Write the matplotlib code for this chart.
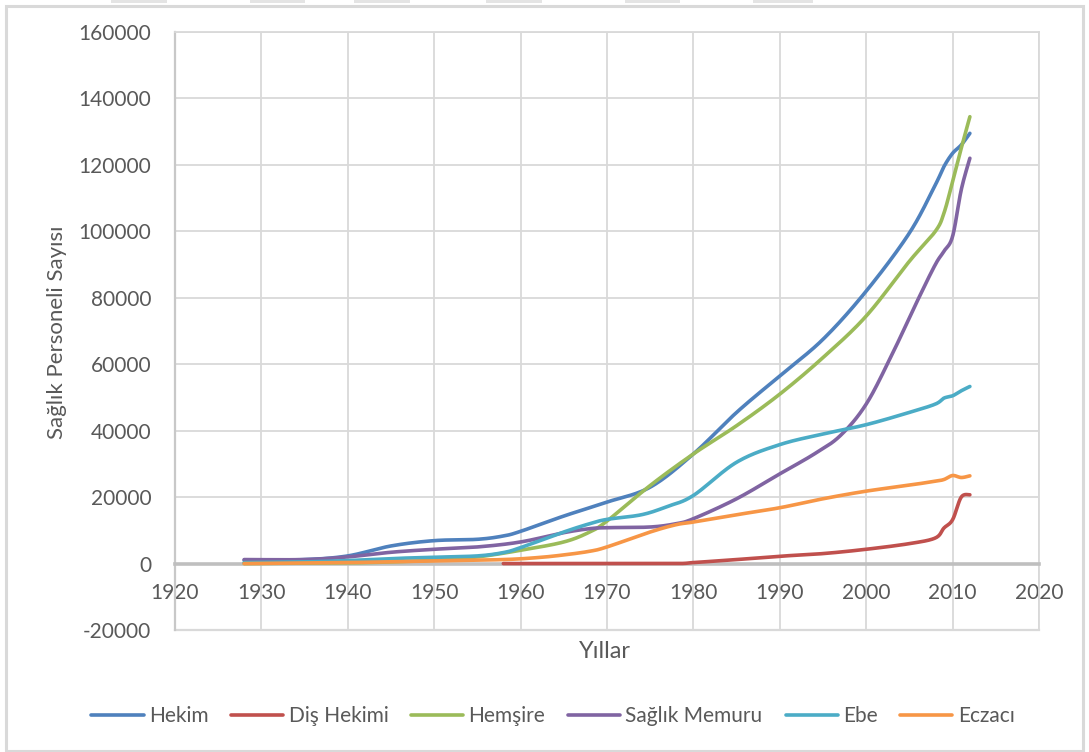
import numpy as np
import matplotlib
matplotlib.use("Agg")
import matplotlib.pyplot as plt
from matplotlib.patches import Rectangle

plt.rcParams["font.family"] = ["Lato", "DejaVu Sans"]
plt.rcParams["axes.unicode_minus"] = False

# Health personnel counts by year
hekim_years = [1928, 1935, 1940, 1945, 1950, 1955, 1958, 1960, 1965, 1970, 1975,
               1980, 1985, 1990, 1995, 2000, 2005, 2008, 2009, 2010, 2011, 2012]
hekim_vals = [1000, 1200, 2300, 5300, 6900, 7300, 8300, 9700, 14300, 18500, 23000,
              33000, 45500, 56500, 67500, 82000, 99500, 114000, 119500, 123500,
              126000, 129500]

dis_years = [1958, 1970, 1978, 1980, 1985, 1990, 1995, 2000, 2005, 2008, 2009,
             2010, 2011, 2012]
dis_vals = [0, 0, 0, 300, 1200, 2200, 3000, 4300, 6000, 7700, 10700, 13200,
            20000, 20700]

hemsire_years = [1928, 1940, 1945, 1950, 1955, 1960, 1965, 1968, 1970, 1975, 1980,
                 1985, 1990, 1995, 2000, 2005, 2008, 2009, 2010, 2011, 2012]
hemsire_vals = [0, 200, 500, 1000, 2000, 4000, 6500, 9500, 12800, 23500, 33000,
                41500, 51000, 62000, 74500, 91000, 100000, 105500, 115000, 125000,
                134500]

memur_years = [1928, 1935, 1940, 1945, 1950, 1955, 1960, 1965, 1968, 1970, 1975,
               1978, 1980, 1985, 1990, 1994, 1997, 2000, 2003, 2006, 2008, 2009,
               2010, 2011, 2012]
memur_vals = [1200, 1200, 2000, 3400, 4300, 5000, 6500, 9300, 10500, 10800, 11000,
              12000, 13500, 19500, 27000, 33000, 38500, 48000, 63000, 79500, 90000,
              94000, 98500, 112500, 122000]

ebe_years = [1928, 1935, 1940, 1945, 1950, 1955, 1958, 1960, 1965, 1968, 1970, 1974,
             1977, 1980, 1985, 1990, 1995, 2000, 2005, 2008, 2009, 2010, 2011, 2012]
ebe_vals = [300, 500, 900, 1500, 1900, 2300, 3300, 4800, 9500, 12000, 13300, 14700,
            17200, 20500, 30500, 35800, 39000, 41800, 45500, 48000, 49800, 50500,
            52000, 53300]

eczaci_years = [1928, 1940, 1950, 1958, 1962, 1965, 1968, 1970, 1975, 1978, 1980,
                1985, 1990, 1995, 2000, 2005, 2008, 2009, 2010, 2011, 2012]
eczaci_vals = [0, 300, 800, 1200, 1800, 2600, 3700, 5000, 9500, 11700, 12500,
               14700, 16800, 19500, 21800, 23600, 24800, 25300, 26500, 25900, 26400]

series_names = ["Hekim", "Diş Hekimi", "Hemşire", "Sağlık Memuru", "Ebe", "Eczacı"]
series_colors = ["#4F81BD", "#C0504D", "#9BBB59", "#8064A2", "#4BACC6", "#F79646"]
series_data = [(hekim_years, hekim_vals), (dis_years, dis_vals),
               (hemsire_years, hemsire_vals), (memur_years, memur_vals),
               (ebe_years, ebe_vals), (eczaci_years, eczaci_vals)]

x_ticks = list(range(1920, 2021, 10))
y_ticks = list(range(-20000, 160001, 20000))


def smooth(xs, ys, n=24):
    """Catmull-Rom curve through the points, like a smoothed office chart line."""
    p = np.column_stack([xs, ys]).astype(float)
    p = np.vstack([p[0], p, p[-1]])
    out = []
    t = np.linspace(0, 1, n, endpoint=False)[:, None]
    for i in range(1, len(p) - 2):
        p0, p1, p2, p3 = p[i - 1], p[i], p[i + 1], p[i + 2]
        seg = 0.5 * ((2 * p1) + (-p0 + p2) * t + (2 * p0 - 5 * p1 + 4 * p2 - p3) * t ** 2
                     + (-p0 + 3 * p1 - 3 * p2 + p3) * t ** 3)
        out.append(seg)
    out.append(p[-2][None, :])
    c = np.vstack(out)
    return c[:, 0], c[:, 1]


W, H = 1089, 752
fig = plt.figure(figsize=(W / 100, H / 100), dpi=100)
fig.patch.set_facecolor("white")

# outer chart border and the tab shapes peeking at the top
fig.patches.append(Rectangle((6 / W, 1 - 751 / H), 1077 / W, 745 / H,
                             transform=fig.transFigure, fill=False,
                             edgecolor="#D9D9D9", lw=2.2))
for x0, x1 in [(111, 167), (250, 305), (354, 410), (486, 542), (625, 680), (753, 813)]:
    fig.patches.append(Rectangle((x0 / W, 1 - 3 / H), (x1 - x0) / W, 3 / H,
                                 transform=fig.transFigure, facecolor="#E4E4E4",
                                 edgecolor="none"))

ax = fig.add_axes([175 / W, 1 - 630 / H, 864 / W, 598 / H])
ax.set_xlim(1920, 2020)
ax.set_ylim(-20000, 160000)
ax.set_xticks(x_ticks)
ax.set_yticks(y_ticks)
ax.grid(True, color="#D9D9D9", lw=1.3)
ax.set_axisbelow(True)

for s in ["top", "right"]:
    ax.spines[s].set_color("#D9D9D9")
    ax.spines[s].set_linewidth(1.3)
ax.spines["left"].set_color("#C8C8C8")
ax.spines["left"].set_linewidth(1.6)
ax.spines["bottom"].set_position(("data", 0))
ax.spines["bottom"].set_color("#BFBFBF")
ax.spines["bottom"].set_linewidth(2.6)
ax.axhline(-20000, color="#D9D9D9", lw=1.6, clip_on=False, zorder=0.5)

ax.tick_params(axis="both", length=0, labelsize=15, labelcolor="#595959")
ax.tick_params(axis="y", pad=17)
ax.tick_params(axis="x", pad=14)

for (xs, ys), name, col in zip(series_data, series_names, series_colors):
    sx, sy = smooth(xs, ys)
    ax.plot(sx, sy, color=col, lw=2.6, label=name, solid_capstyle="round", zorder=3)

fig.text(605 / W, 1 - 651 / H, "Yıllar", ha="center", va="center",
         fontsize=17, color="#595959")
fig.text(57 / W, 1 - 332 / H, "Sağlık Personeli Sayısı", ha="center", va="center",
         rotation=90, fontsize=16, color="#595959")

leg = fig.legend(loc="center", bbox_to_anchor=(553 / W, 1 - 716 / H), ncol=6,
                 frameon=False, fontsize=15, handlelength=2.5, handletextpad=0.25,
                 columnspacing=1.1, borderaxespad=0)
for t in leg.get_texts():
    t.set_color("#595959")

fig.savefig("out.png", dpi=100)
